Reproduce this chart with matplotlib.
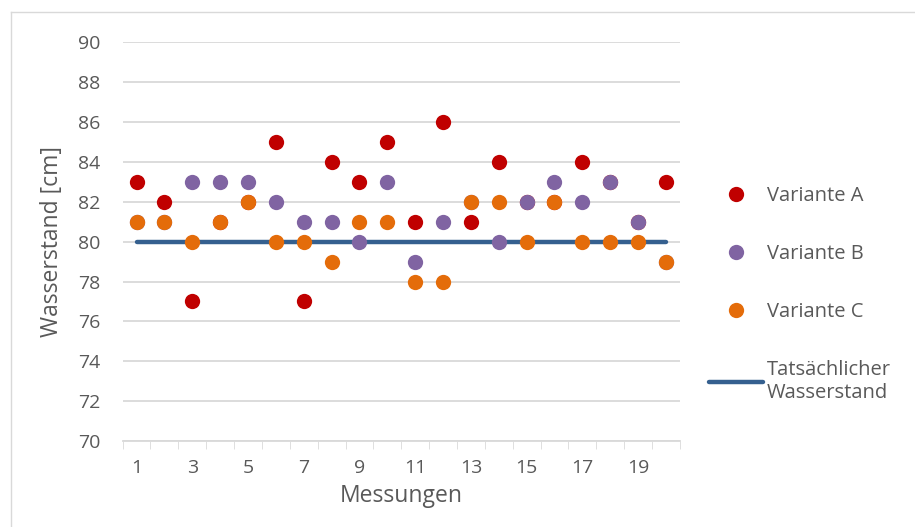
import numpy as np
import matplotlib.pyplot as plt
from matplotlib.lines import Line2D

plt.rcParams['font.family'] = ['Open Sans', 'DejaVu Sans']

# Daten
messungen = np.arange(1, 21)
variante_a = [83, 82, 77, 81, 82, 85, 77, 84, 83, 85, 81, 86, 81, 84, 82, 82, 84, 83, 81, 83]
variante_b = [81, 81, 83, 83, 83, 82, 81, 81, 80, 83, 79, 81, 82, 80, 82, 83, 82, 83, 81, 79]
variante_c = [81, 81, 80, 81, 82, 80, 80, 79, 81, 81, 78, 78, 82, 82, 80, 82, 80, 80, 80, 79]
wasserstand = [80] * 20
y_ticks = np.arange(70, 91, 2)
x_labels = [str(i) if i % 2 == 1 else '' for i in messungen]

grau = '#595959'

fig = plt.figure(figsize=(9.15, 5.27), dpi=100)
ax = fig.add_axes([0.134, 0.163, 0.609, 0.757])

ax.plot(messungen, wasserstand, color='#35608F', lw=3.2, solid_capstyle='round',
        label='Tatsächlicher\nWasserstand', zorder=2)
ax.plot(messungen, variante_a, 'o', color='#C00000', ms=11, mec='none', label='Variante A', zorder=3)
ax.plot(messungen, variante_b, 'o', color='#8064A2', ms=11, mec='none', label='Variante B', zorder=4)
ax.plot(messungen, variante_c, 'o', color='#E46C0A', ms=11, mec='none', label='Variante C', zorder=5)

ax.set_ylim(70, 90)
ax.set_xlim(0.5, 20.5)
ax.set_yticks(y_ticks)
ax.set_xticks(messungen)
ax.set_xticklabels(x_labels)
ax.set_xticks(np.arange(0.5, 21, 1), minor=True)
ax.tick_params(axis='x', which='major', length=0, pad=13, labelsize=14, labelcolor=grau)
ax.tick_params(axis='x', which='minor', length=6, color='#D9D9D9', direction='out')
ax.tick_params(axis='y', length=0, pad=16, labelsize=14, labelcolor=grau)
ax.grid(axis='y', color='#D9D9D9', lw=1.3)
ax.set_axisbelow(True)
for s in ['top', 'right', 'left']:
    ax.spines[s].set_visible(False)
ax.spines['bottom'].set_color('#D9D9D9')
ax.spines['bottom'].set_linewidth(1.3)

ax.set_xlabel('Messungen', fontsize=16.5, color=grau, labelpad=5)
ax.set_ylabel('Wasserstand [cm]', fontsize=16.5, color=grau, labelpad=10)

handles, labels = ax.get_legend_handles_labels()
order = [1, 2, 3, 0]
leg = ax.legend([handles[i] for i in order], [labels[i] for i in order],
                loc='upper left', bbox_to_anchor=(1.019, 0.685), frameon=False,
                fontsize=14.5, labelcolor=grau, labelspacing=1.89, handlelength=2.7,
                handletextpad=0.2)

# Rahmen (nur links und oben sichtbar)
fig.add_artist(Line2D([10.5 / 915, 10.5 / 915], [0, 1 - 11.5 / 527], transform=fig.transFigure,
                      color='#D9D9D9', lw=1))
fig.add_artist(Line2D([10.5 / 915, 1], [1 - 11.5 / 527, 1 - 11.5 / 527], transform=fig.transFigure,
                      color='#D9D9D9', lw=1))

fig.savefig('out.png', dpi=100)
